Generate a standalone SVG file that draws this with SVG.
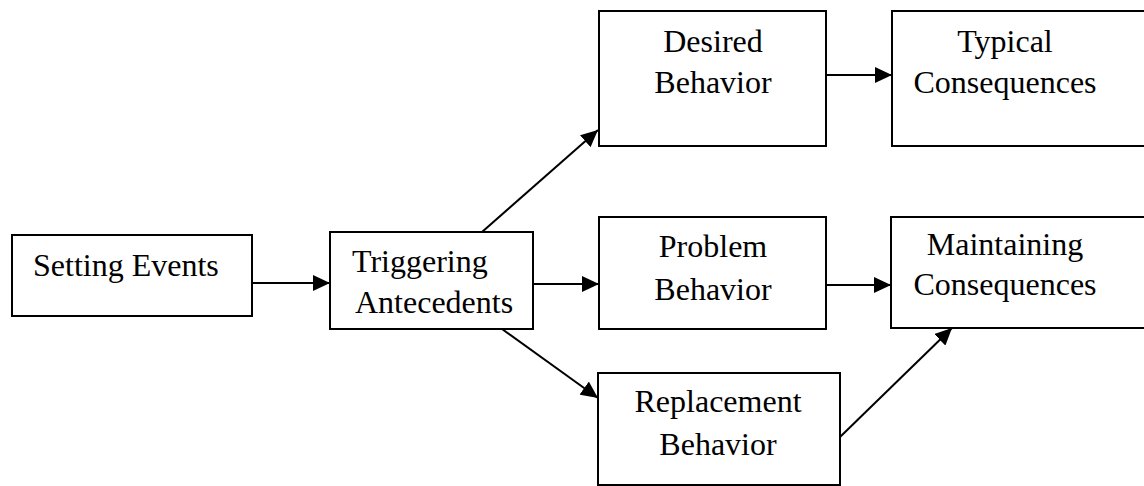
<svg xmlns="http://www.w3.org/2000/svg" width="1144" height="486" viewBox="0 0 1144 486">
<style>
.box{fill:#fff;stroke:#000;stroke-width:2}
.t{font-family:"Liberation Serif","Times New Roman",serif;font-size:32px;fill:#000}
.c{text-anchor:middle}
.e{stroke:#000;stroke-width:2;fill:none}
</style>
<defs>
<marker id="ah" viewBox="0 0 17 16" refX="17" refY="8" markerWidth="17" markerHeight="16" markerUnits="userSpaceOnUse" orient="auto">
<path d="M0,0 L17,8 L0,16 Z" fill="#000"/>
</marker>
</defs>
<rect width="1144" height="486" fill="#fff"/>
<g id="connectors">
<line class="e" x1="252" y1="283" x2="330" y2="283" marker-end="url(#ah)"/>
<line class="e" x1="533" y1="284" x2="599" y2="284" marker-end="url(#ah)"/>
<line class="e" x1="482" y1="232" x2="598" y2="130" marker-end="url(#ah)"/>
<line class="e" x1="502" y1="329" x2="598" y2="398" marker-end="url(#ah)"/>
<line class="e" x1="826" y1="75" x2="892" y2="75" marker-end="url(#ah)"/>
<line class="e" x1="826" y1="285" x2="891" y2="285" marker-end="url(#ah)"/>
<line class="e" x1="840" y1="437" x2="952" y2="328" marker-end="url(#ah)"/>
</g>
<g id="setting">
<rect class="box" x="12" y="235" width="240" height="81"/>
<text class="t" x="33" y="276">Setting Events</text>
</g>
<g id="triggering">
<rect class="box" x="330" y="232" width="203" height="97"/>
<text class="t" x="352" y="272">Triggering</text>
<text class="t" x="355" y="313">Antecedents</text>
</g>
<g id="desired">
<rect class="box" x="599" y="11" width="227" height="135"/>
<text class="t c" x="713" y="52">Desired</text>
<text class="t c" x="713" y="93">Behavior</text>
</g>
<g id="typical">
<rect class="box" x="892" y="11" width="260" height="135"/>
<text class="t c" x="1005" y="52">Typical</text>
<text class="t c" x="1005" y="93">Consequences</text>
</g>
<g id="problem">
<rect class="box" x="599" y="217" width="227" height="112"/>
<text class="t c" x="713" y="257">Problem</text>
<text class="t c" x="713" y="300">Behavior</text>
</g>
<g id="maintaining">
<rect class="box" x="891" y="217" width="260" height="111"/>
<text class="t c" x="1005" y="255">Maintaining</text>
<text class="t c" x="1005" y="295">Consequences</text>
</g>
<g id="replacement">
<rect class="box" x="598" y="373" width="242" height="112"/>
<text class="t c" x="718" y="412">Replacement</text>
<text class="t c" x="718" y="455">Behavior</text>
</g>
</svg>
